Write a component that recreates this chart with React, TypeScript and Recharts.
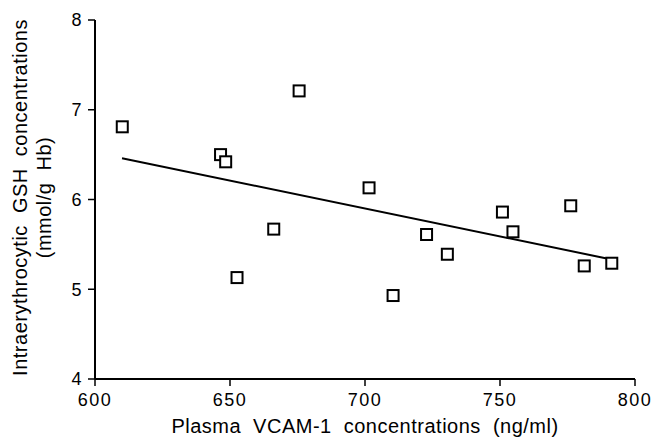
import React from 'react';
import { ScatterChart, Scatter, XAxis, YAxis } from 'recharts';

// measured points: plasma VCAM-1 (ng/ml) vs intraerythrocytic GSH (mmol/g Hb)
const vcam = [610.1, 646.5, 648.4, 652.6, 666.2, 675.6, 701.5, 710.4, 722.8, 730.5, 750.9, 754.8, 776.2, 781.2, 791.4];
const gsh = [6.81, 6.5, 6.42, 5.13, 5.67, 7.21, 6.13, 4.93, 5.61, 5.39, 5.86, 5.64, 5.93, 5.26, 5.29];

// end points of the fitted line
const fitX = [610, 790];
const fitY = [6.46, 5.34];

const xTicks = [600, 650, 700, 750, 800];
const yTicks = [4, 5, 6, 7, 8];

const points = vcam.map((x, i) => ({ x, y: gsh[i] }));
const fitLine = fitX.map((x, i) => ({ x, y: fitY[i] }));

const FONT = '"Liberation Sans", Arial, Helvetica, sans-serif';
const labelStyle = { letterSpacing: 0.5, wordSpacing: 6 };

const SquareMark = (props: any) => {
  const { cx, cy } = props;
  if (cx == null || cy == null) return <g />;
  return <rect x={cx - 5.5} y={cy - 5.5} width={11} height={11} fill="#fff" stroke="#000" strokeWidth={2} />;
};

const YLabel = ({ viewBox }: any) => {
  const cy = viewBox.y + viewBox.height / 2 - 2;
  return (
    <g fontFamily={FONT} fontSize={20} fill="#000" style={labelStyle}>
      <text x={27} y={cy} textAnchor="middle" transform={`rotate(-90 27 ${cy})`}>
        Intraerythrocytic GSH concentrations
      </text>
      <text x={51} y={cy} textAnchor="middle" transform={`rotate(-90 51 ${cy})`}>
        (mmol/g Hb)
      </text>
    </g>
  );
};

const XLabel = ({ viewBox }: any) => {
  const cx = viewBox.x + viewBox.width / 2;
  return (
    <text x={cx} y={viewBox.y + 54} textAnchor="middle" fontFamily={FONT} fontSize={20} fill="#000" style={labelStyle}>
      Plasma VCAM-1 concentrations (ng/ml)
    </text>
  );
};

export default function App() {
  const tickStyle = { fill: '#000', fontSize: 18, fontFamily: FONT, letterSpacing: 1.5 };
  return (
    <div style={{ position: 'absolute', left: 0, top: 0, background: '#fff' }}>
      <ScatterChart width={653} height={439} margin={{ top: 20, right: 18, left: 0, bottom: 0 }}>
        <XAxis
          type="number"
          dataKey="x"
          domain={[600, 800]}
          ticks={xTicks}
          height={60}
          tickSize={7}
          tickMargin={7}
          axisLine={{ stroke: '#000', strokeWidth: 2 }}
          tickLine={{ stroke: '#000', strokeWidth: 1.5 }}
          tick={tickStyle}
          label={<XLabel />}
        />
        <YAxis
          type="number"
          dataKey="y"
          domain={[4, 8]}
          ticks={yTicks}
          width={95}
          tickSize={7}
          tickMargin={5}
          axisLine={{ stroke: '#000', strokeWidth: 2 }}
          tickLine={{ stroke: '#000', strokeWidth: 1.5 }}
          tick={tickStyle}
          label={<YLabel />}
        />
        <Scatter
          data={fitLine}
          line={{ stroke: '#000', strokeWidth: 2 }}
          shape={() => <g />}
          isAnimationActive={false}
        />
        <Scatter data={points} shape={<SquareMark />} isAnimationActive={false} />
      </ScatterChart>
    </div>
  );
}
